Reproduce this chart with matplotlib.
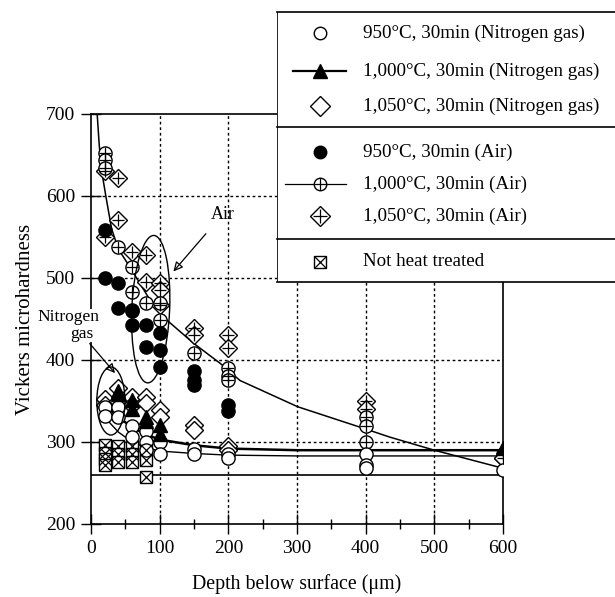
import matplotlib
matplotlib.use("Agg")
import matplotlib.pyplot as plt
from matplotlib.patches import Ellipse

plt.rcParams["font.family"] = ["Liberation Serif", "DejaVu Serif"]

# ---- data ----
n950_x = [20, 20, 40, 40, 60, 60, 80, 80, 80, 100, 100, 150, 150, 200, 200, 400, 400, 400, 600]
n950_y = [343, 332, 343, 330, 319, 306, 313, 300, 290, 300, 285, 292, 285, 285, 280, 285, 272, 268, 266]

n1000_x = [40, 40, 60, 60, 80, 80, 100, 100, 600]
n1000_y = [362, 358, 351, 340, 331, 325, 321, 310, 293]

n1050_x = [20, 20, 40, 40, 60, 60, 80, 80, 100, 100, 150, 150, 200, 200, 600]
n1050_y = [353, 345, 366, 350, 355, 345, 355, 348, 339, 330, 321, 315, 295, 290, 280]

a950_x = [20, 20, 40, 40, 60, 60, 80, 80, 100, 100, 100, 150, 150, 150, 200, 200]
a950_y = [558, 500, 494, 463, 460, 443, 443, 416, 433, 412, 392, 386, 376, 369, 345, 338]

a1000_x = [20, 20, 20, 40, 60, 60, 60, 80, 100, 100, 150, 200, 200, 200, 400, 400, 400, 600]
a1000_y = [652, 644, 634, 538, 514, 483, 461, 469, 449, 470, 408, 390, 380, 375, 330, 320, 300, 285]

a1050_x = [20, 20, 40, 40, 60, 80, 80, 100, 100, 100, 150, 150, 200, 200, 400, 400, 600]
a1050_y = [630, 550, 622, 571, 532, 528, 495, 494, 485, 467, 439, 430, 430, 415, 350, 340, 280]

nht_x = [20, 20, 20, 20, 40, 40, 40, 60, 60, 60, 80, 80, 80]
nht_y = [296, 287, 279, 272, 295, 285, 275, 295, 285, 275, 290, 278, 257]

# fitted curves, points
air_fit_x = [9, 12, 16, 22, 30, 40, 57, 86, 110, 150, 188, 217, 301, 403, 435, 500, 550, 600]
air_fit_y = [700, 662, 628, 598, 560, 535, 513, 473, 449, 420, 396, 375, 343, 315, 306, 290, 279, 268]
n2_fit_x = [20, 40, 60, 80, 100, 150, 200, 300, 400, 500, 600]
n2_fit_y = [345, 330, 318, 309, 303, 296, 292, 290, 290, 290, 290]
n_fit_x = [20, 40, 60, 80, 100, 150, 200, 300, 400, 500, 600]
n_fit_y = [330, 312, 300, 293, 289, 286, 284, 283, 283, 283, 283]
nht_fit_x = [0, 600]
nht_fit_y = [260, 260]

legend_labels = ["950°C, 30min (Nitrogen gas)", "1,000°C, 30min (Nitrogen gas)",
                 "1,050°C, 30min (Nitrogen gas)", "950°C, 30min (Air)",
                 "1,000°C, 30min (Air)", "1,050°C, 30min (Air)", "Not heat treated"]

fig = plt.figure(figsize=(6.15, 5.97), dpi=100)
ax = fig.add_axes([91 / 615, 1 - 524 / 597, 412 / 615, 410 / 597])

ms = 9.5
open_kw = dict(ls="none", mfc="white", mec="black", mew=1.0)


def crossed(x, y, base, cross, size, zo=3):
    ax.plot(x, y, marker=base, ms=size, zorder=zo, **open_kw)
    ax.plot(x, y, marker=cross, ms=size * 0.95, ls="none", color="black", mew=0.9, zorder=zo + 0.1)


# curves
ax.plot(air_fit_x, air_fit_y, color="black", lw=1.1, zorder=2)
ax.plot(n2_fit_x, n2_fit_y, color="black", lw=1.8, zorder=2)
ax.plot(n_fit_x, n_fit_y, color="black", lw=1.0, zorder=2)
ax.plot(nht_fit_x, nht_fit_y, color="black", lw=1.2, zorder=2)

# points
crossed(nht_x, nht_y, "s", "x", 8.5)
crossed(a1050_x, a1050_y, "D", "+", 9.5)
crossed(a1000_x, a1000_y, "o", "+", ms)
ax.plot(a950_x, a950_y, marker="o", ms=ms, ls="none", color="black", zorder=3)
ax.plot(n1050_x, n1050_y, marker="D", ms=9.5, zorder=3, **open_kw)
ax.plot(n950_x, n950_y, marker="o", ms=ms, zorder=3, **open_kw)
ax.plot(n1000_x, n1000_y, marker="^", ms=ms, ls="none", color="black", zorder=4)

# ellipses and labels
ax.add_patch(Ellipse((29, 350), 41, 83, fill=False, lw=1.0, zorder=5))
ax.add_patch(Ellipse((87, 462), 55, 180, angle=-3, fill=False, lw=1.0, zorder=5))
ax.annotate("Air", xy=(120, 508), xytext=(192, 578), fontsize=13, ha="center", va="center",
            arrowprops=dict(arrowstyle="-|>", color="black", lw=0.9, fill=False,
                            shrinkA=8, shrinkB=0, mutation_scale=14), zorder=6)
ax.text(-33, 452, "Nitrogen", fontsize=12.5, ha="center", va="center", zorder=6, clip_on=False,
        bbox=dict(facecolor="white", edgecolor="none", pad=0.5))
ax.annotate("gas", xy=(35, 384), xytext=(-14, 432), fontsize=12.5, ha="center",
            va="center", annotation_clip=False,
            bbox=dict(facecolor="white", edgecolor="none", pad=0.5),
            arrowprops=dict(arrowstyle="-|>", color="black", lw=0.9, fill=False,
                            shrinkA=1, shrinkB=0, mutation_scale=14), zorder=6)

ax.set_xlim(0, 600)
ax.set_ylim(200, 700)
ax.set_xticks(range(0, 601, 100))
ax.set_xticks(range(50, 600, 100), minor=True)
ax.set_yticks(range(200, 701, 100))
ax.tick_params(which="major", direction="inout", length=15, width=1.0, labelsize=14, pad=4)
ax.tick_params(which="minor", direction="inout", length=7, width=1.0)
for v in [100, 200, 300, 400, 500]:
    ax.axvline(v, color="black", lw=1.0, ls=(0, (2, 2)), zorder=1)
for v in [300, 400, 500, 600]:
    ax.axhline(v, color="black", lw=1.0, ls=(0, (2, 2)), zorder=1)
for s in ax.spines.values():
    s.set_linewidth(1.2)
ax.set_xlabel("Depth below surface (μm)", fontsize=14.3, labelpad=12)
ax.set_ylabel("Vickers microhardness", fontsize=15, labelpad=8)

# legend panel
lg = fig.add_axes([277 / 615, 1 - 282 / 597, 338 / 615, 270 / 597], zorder=10)
lg.set_xlim(277, 615)
lg.set_ylim(282, 12)
lg.axis("off")
lg.add_patch(plt.Rectangle((277, 12), 345, 270, facecolor="white", edgecolor="none"))
for yy in [12, 127, 239, 282]:
    lg.plot([277, 620], [yy, yy], color="black", lw=1.2, clip_on=False)
lg.plot([277, 277], [12, 282], color="black", lw=1.2)

rows = [33, 71, 106, 152, 184, 216, 262]
mx = 320
lg.plot(mx, rows[0], marker="o", ms=9, mfc="white", mec="black", mew=1.0)
lg.plot([293, 346], [rows[1], rows[1]], color="black", lw=1.6)
lg.plot(mx, rows[1], marker="^", ms=10, color="black")
lg.plot(mx, rows[2], marker="D", ms=10, mfc="white", mec="black", mew=1.0)
lg.plot(mx, rows[3], marker="o", ms=9, color="black")
lg.plot([285, 346], [rows[4], rows[4]], color="black", lw=0.9)
lg.plot(mx, rows[4], marker="o", ms=9, mfc="white", mec="black", mew=1.0)
lg.plot(mx, rows[4], marker="+", ms=9, color="black", mew=0.9)
lg.plot(mx, rows[5], marker="D", ms=10, mfc="white", mec="black", mew=1.0)
lg.plot(mx, rows[5], marker="+", ms=10, color="black", mew=0.9)
lg.plot(mx, rows[6], marker="s", ms=8, mfc="white", mec="black", mew=1.0)
lg.plot(mx, rows[6], marker="x", ms=8, color="black", mew=0.9)
for yy, lab in zip(rows, legend_labels):
    lg.text(363, yy, lab, fontsize=13.7, va="center", ha="left")

fig.savefig("out.png", dpi=100)
